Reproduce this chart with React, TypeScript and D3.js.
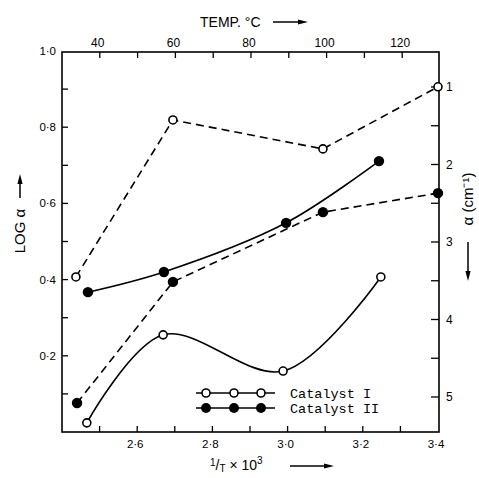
import * as d3 from "d3";

// 1/T x 10^3 (bottom axis) and log alpha (left axis)
const catIDashedX = [2.437, 2.695, 3.094, 3.4];
const catIDashedY = [0.407, 0.819, 0.743, 0.906];
const catISolidX = [2.466, 2.669, 2.988, 3.248];
const catISolidY = [0.024, 0.255, 0.16, 0.407];
const catIISolidX = [2.469, 2.671, 2.996, 3.243];
const catIISolidY = [0.367, 0.42, 0.549, 0.711];
const catIIDashedX = [2.44, 2.695, 3.094, 3.4];
const catIIDashedY = [0.076, 0.394, 0.577, 0.627];

const legendLabels = ["Catalyst I", "Catalyst II"];

const logTicks = [0.1, 0.2, 0.3, 0.4, 0.5, 0.6, 0.7, 0.8, 0.9];
const logLabels = [0.2, 0.4, 0.6, 0.8, 1.0];
const invTTicks = [2.5, 2.6, 2.7, 2.8, 2.9, 3.0, 3.1, 3.2, 3.3];
const invTLabels = [2.6, 2.8, 3.0, 3.2, 3.4];
const tempTicks = [40, 50, 60, 70, 80, 90, 100, 110, 120];
const tempLabels = [40, 60, 80, 100, 120];
const alphaTicks = [1, 1.5, 2, 2.5, 3, 3.5, 4, 4.5, 5];
const alphaLabels = [1, 2, 3, 4, 5];

const left = 62, right = 439, top = 52, bottom = 432;

const x = d3.scaleLinear().domain([2.4, 3.4]).range([left, 438]);
const y = d3.scaleLinear().domain([0, 1]).range([bottom, 51]);
const xTemp = d3.scaleLinear().domain([30, 130]).range([left, 440]);
const yAlpha = d3.scaleLinear().domain([1, 5]).range([87, 397]);

const dot = (v: number) => v.toFixed(1).replace(".", "·");

const straight = d3.line<[number, number]>().x((d) => x(d[0])).y((d) => y(d[1]));
const smooth = d3
  .line<[number, number]>()
  .x((d) => x(d[0]))
  .y((d) => y(d[1]))
  .curve(d3.curveCatmullRom.alpha(0.5));

const zip = (a: number[], b: number[]) => a.map((v, i) => [v, b[i]] as [number, number]);

const Arrow = ({ x1, y1, x2, y2 }: { x1: number; y1: number; x2: number; y2: number }) => {
  const len = Math.hypot(x2 - x1, y2 - y1);
  const ux = (x2 - x1) / len, uy = (y2 - y1) / len;
  const bx = x2 - ux * 10, by = y2 - uy * 10;
  const px = -uy * 2.6, py = ux * 2.6;
  return (
    <g>
      <line x1={x1} y1={y1} x2={bx} y2={by} stroke="#000" strokeWidth={1.5} />
      <polygon points={`${x2},${y2} ${bx + px},${by + py} ${bx - px},${by - py}`} fill="#000" />
    </g>
  );
};

const font = "Liberation Sans, Arial, sans-serif";

export default function App() {
  const series = [
    { pts: zip(catIDashedX, catIDashedY), gen: straight, dash: "8,5", filled: false },
    { pts: zip(catISolidX, catISolidY), gen: smooth, dash: undefined, filled: false },
    { pts: zip(catIISolidX, catIISolidY), gen: smooth, dash: undefined, filled: true },
    { pts: zip(catIIDashedX, catIIDashedY), gen: straight, dash: "8,5", filled: true },
  ];

  return (
    <svg width={479} height={478} style={{ position: "absolute", left: 0, top: 0, background: "#fff" }}>
      {/* frame */}
      <rect x={left} y={top} width={right - left} height={bottom - top} fill="none" stroke="#000" strokeWidth={1.6} />

      {/* left ticks */}
      {logTicks.map((t) => (
        <line key={"l" + t} x1={left} x2={left + 6} y1={y(t)} y2={y(t)} stroke="#000" strokeWidth={1.3} />
      ))}
      {logLabels.map((t) => (
        <text key={"ll" + t} x={56} y={y(t) + 4} textAnchor="end" fontSize={11.5} fontFamily={font}>
          {dot(t)}
        </text>
      ))}

      {/* bottom ticks */}
      {invTTicks.map((t) => (
        <line key={"b" + t} x1={x(t)} x2={x(t)} y1={bottom} y2={bottom - 6} stroke="#000" strokeWidth={1.3} />
      ))}
      {invTLabels.map((t) => (
        <text key={"bl" + t} x={x(t) - 2} y={bottom + 16} textAnchor="middle" fontSize={11.5} fontFamily={font}>
          {dot(t)}
        </text>
      ))}

      {/* top ticks */}
      {tempTicks.map((t) => (
        <line key={"t" + t} x1={xTemp(t)} x2={xTemp(t)} y1={top} y2={top + 6} stroke="#000" strokeWidth={1.3} />
      ))}
      {tempLabels.map((t) => (
        <text key={"tl" + t} x={xTemp(t) - 2} y={top - 5} textAnchor="middle" fontSize={12} fontFamily={font}>
          {t}
        </text>
      ))}

      {/* right ticks */}
      {alphaTicks.map((t) => (
        <line key={"r" + t} x1={right} x2={right - 8} y1={yAlpha(t)} y2={yAlpha(t)} stroke="#000" strokeWidth={1.3} />
      ))}
      {alphaLabels.map((t) => (
        <text key={"rl" + t} x={446} y={yAlpha(t) + 4} fontSize={12} fontFamily={font}>
          {t}
        </text>
      ))}

      {/* series */}
      {series.map((s, i) => (
        <g key={"s" + i}>
          <path d={s.gen(s.pts) ?? ""} fill="none" stroke="#000" strokeWidth={1.6} strokeDasharray={s.dash} />
          {s.pts.map((p, j) =>
            s.filled ? (
              <circle key={j} cx={x(p[0])} cy={y(p[1])} r={5.2} fill="#000" />
            ) : (
              <circle key={j} cx={x(p[0])} cy={y(p[1])} r={4} fill="#fff" stroke="#000" strokeWidth={1.6} />
            )
          )}
        </g>
      ))}

      {/* legend */}
      {legendLabels.map((lab, i) => {
        const ly = 393 + i * 15;
        return (
          <g key={lab}>
            <line x1={196} x2={275} y1={ly} y2={ly} stroke="#000" strokeWidth={1.6} />
            {[206, 234, 261].map((cx) =>
              i === 0 ? (
                <circle key={cx} cx={cx} cy={ly} r={4} fill="#fff" stroke="#000" strokeWidth={1.6} />
              ) : (
                <circle key={cx} cx={cx} cy={ly} r={5} fill="#000" />
              )
            )}
            <text x={290} y={ly + 4.5} fontSize={13.5} fontFamily="Liberation Mono, monospace">
              {lab}
            </text>
          </g>
        );
      })}

      {/* axis titles */}
      <text x={200} y={27} fontSize={14} fontFamily={font}>
        TEMP. °C
      </text>
      <Arrow x1={273} y1={22} x2={308} y2={22} />

      <text x={210} y={470} fontSize={14} fontFamily={font}>
        <tspan fontSize={10} dy={-4}>1</tspan>
        <tspan dy={4}>/</tspan>
        <tspan fontSize={10} dy={2}>T</tspan>
        <tspan dy={-2}> × 10</tspan>
        <tspan fontSize={10} dy={-6}>3</tspan>
      </text>
      <Arrow x1={290} y1={466} x2={334} y2={466} />

      <text transform="translate(25,231) rotate(-90)" textAnchor="middle" fontSize={15} fontFamily={font}>
        LOG  α
      </text>
      <Arrow x1={20} y1={198} x2={20} y2={174} />

      <text transform="translate(473,199) rotate(-90)" textAnchor="middle" fontSize={15} fontFamily={font}>
        α (cm⁻¹)
      </text>
      <Arrow x1={468} y1={242} x2={468} y2={281} />
    </svg>
  );
}
